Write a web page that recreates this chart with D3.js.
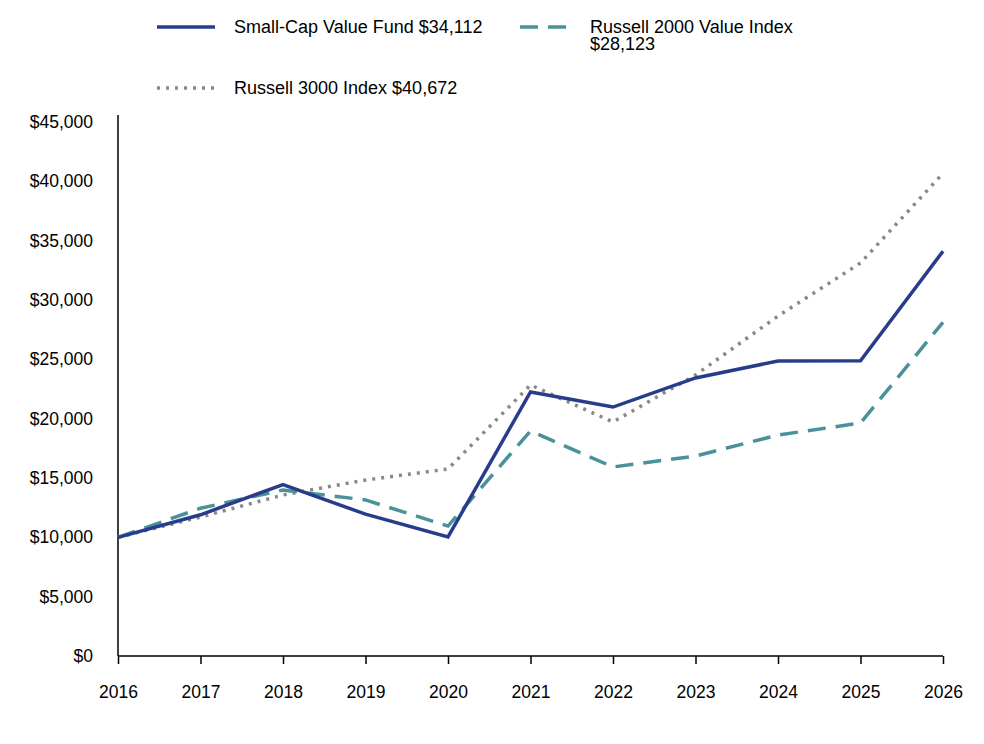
<!DOCTYPE html>
<html><head><meta charset="utf-8">
<script src="https://cdn.jsdelivr.net/npm/d3@7"></script>
<style>body{margin:0;background:#fff}text{font-family:"Liberation Sans",Arial,sans-serif}</style>
</head><body><svg id="c" width="984" height="744"></svg>
<script>
const years=[2016,2017,2018,2019,2020,2021,2022,2023,2024,2025,2026];
const fund=[10000,11900,14450,11950,10030,22250,20980,23430,24860,24870,34112];
const r2000=[10000,12450,13990,13150,10950,18960,15930,16850,18620,19630,28123];
const r3000=[10000,11710,13570,14830,15760,22840,19720,23680,28650,33120,40672];
const yTicks=[0,5000,10000,15000,20000,25000,30000,35000,40000,45000];
const series=[
 {name:"Small-Cap Value Fund $34,112",v:fund,c:"#283c8c",d:null,w:3.5},
 {name:"Russell 2000 Value Index $28,123",v:r2000,c:"#4a9299",d:"18,10",w:3.5},
 {name:"Russell 3000 Index $40,672",v:r3000,c:"#888888",d:"3,6",w:3.5}];
const svg=d3.select("#c");
const x=d3.scaleLinear().domain([2016,2026]).range([118,943]);
const y=d3.scaleLinear().domain([0,45000]).range([656,122]);
const fmt=d3.format("$,");
const ya=svg.append("g").attr("transform","translate(118,0)").call(d3.axisLeft(y).tickValues(yTicks).tickFormat(fmt).tickSize(0).tickPadding(25));
ya.selectAll("text").attr("font-size",17.5).attr("fill","#000");
ya.select(".domain").attr("stroke","#000").attr("stroke-width",1.5).attr("d","M0,115V656");
const xa=svg.append("g").attr("transform","translate(0,656)").call(d3.axisBottom(x).tickValues(years).tickFormat(d3.format("d")).tickSize(8).tickPadding(22));
xa.selectAll("text").attr("font-size",17.5).attr("fill","#000");
xa.selectAll("line").attr("stroke","#000").attr("stroke-width",1.5);
xa.select(".domain").attr("stroke","#000").attr("stroke-width",1.5).attr("d","M118,0H943");
const line=d3.line().x((d,i)=>x(years[i])).y(d=>y(d));
[2,1,0].forEach(i=>{const s=series[i];
 svg.append("path").attr("d",line(s.v)).attr("fill","none").attr("stroke",s.c).attr("stroke-width",s.w).attr("stroke-dasharray",s.d);});
const leg=[{s:series[0],x:157,y:27,w:58,tx:234,lines:["Small-Cap Value Fund $34,112"]},
 {s:series[1],x:520,y:27,w:56,tx:590,lines:["Russell 2000 Value Index","$28,123"]},
 {s:series[2],x:157,y:88,w:58,tx:234,lines:["Russell 3000 Index $40,672"]}];
leg.forEach(l=>{
 svg.append("line").attr("x1",l.x).attr("x2",l.x+l.w).attr("y1",l.y).attr("y2",l.y).attr("stroke",l.s.c).attr("stroke-width",l.s.w).attr("stroke-dasharray",l.s.d);
 const t=svg.append("text").attr("x",l.tx).attr("y",l.y+6).attr("font-size",18).attr("fill","#000");
 l.lines.forEach((s,i)=>t.append("tspan").attr("x",l.tx).attr("dy",i?17:0).text(s));
});
</script></body></html>
